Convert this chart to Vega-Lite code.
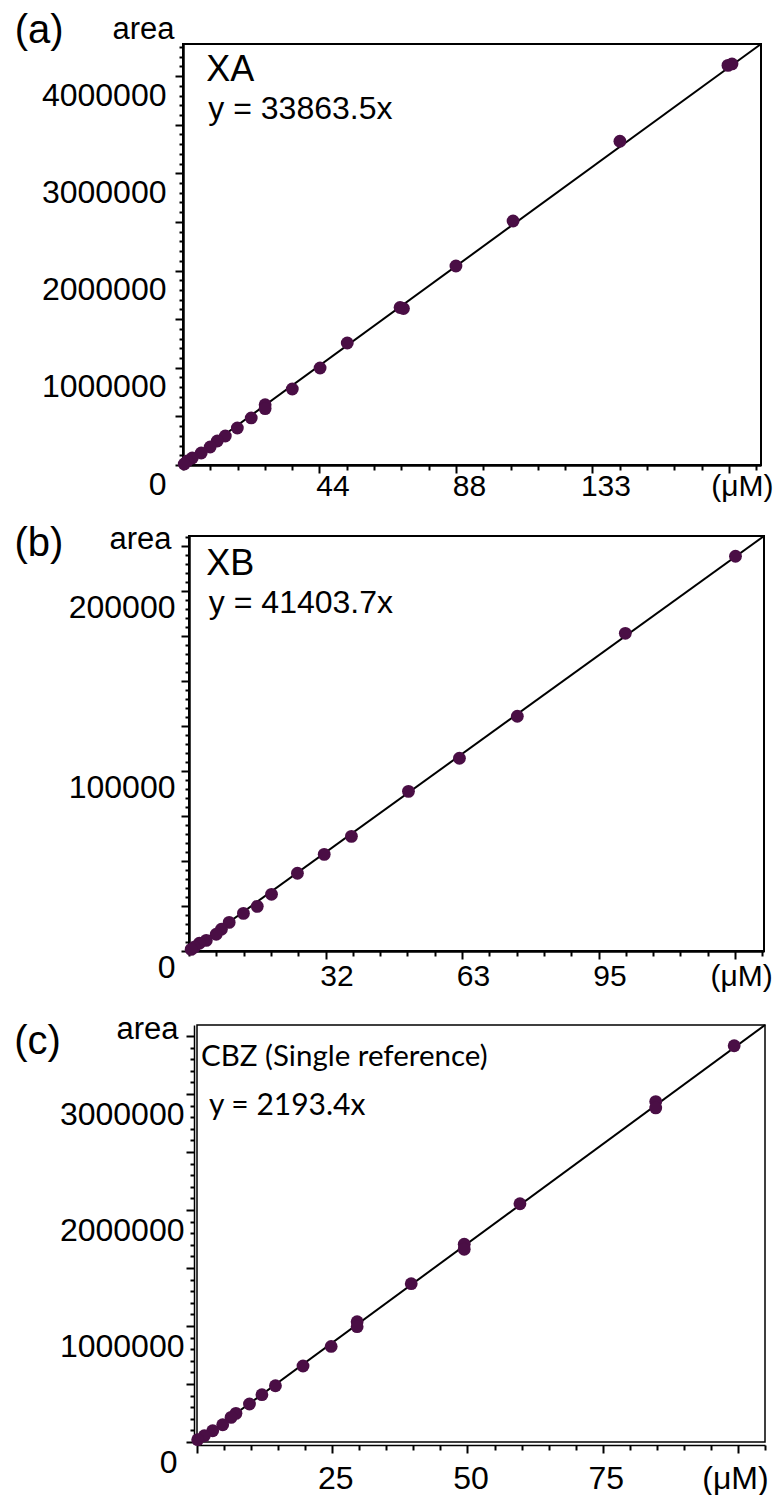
{
  "$schema": "https://vega.github.io/schema/vega-lite/v6.json",
  "background": "white",
  "padding": {"left": 12, "top": 9, "right": 0, "bottom": 0},
  "config": {
    "font": "Liberation Sans",
    "axis": {"grid": false, "domainColor": "black", "tickColor": "black", "labelColor": "black", "titleColor": "black", "labelFont": "Liberation Sans", "titleFont": "Liberation Sans", "titleFontWeight": "normal", "labelFlush": false, "labelOverlap": false, "labelBound": false, "domainWidth": 2.5, "tickWidth": 2, "labelFontSize": 32, "titleFontSize": 31},
    "text": {"color": "black", "font": "Liberation Sans"}
  },
  "spacing": 20,
  "vconcat": [
    {"spacing": 0, "hconcat": [
      {"width": 1, "height": 1, "view": {"stroke": null}, "data": {"values": []}, "mark": "point", "encoding": {}},
      {"width": 578, "height": 421, "view": {"stroke": "black", "strokeWidth": 2},
       "resolve": {"axis": {"x": "independent", "y": "independent"}},
       "layer": [
        {"data": {"values": [{"conc": 0, "area": 0}, {"conc": 187.2, "area": 4330000}]},
         "mark": {"type": "line", "color": "black", "strokeWidth": 2},
         "encoding": {
          "x": {"field": "conc", "type": "quantitative", "scale": {"domain": [0, 187.2], "nice": false, "zero": false},
                "axis": {"orient": "bottom", "title": null, "labels": false, "values": [0, 8.84, 17.68, 26.52, 35.36, 44.2, 53.04, 61.88, 70.72, 79.56, 88.4, 97.24, 106.08, 114.92, 123.76, 132.6, 141.44, 150.28, 159.12, 167.96, 176.8, 185.64],
                         "tickSize": {"condition": {"test": "indexof([44.2, 88.4, 132.6, 176.8], datum.value) >= 0", "value": 8}, "value": 5}}},
          "y": {"field": "area", "type": "quantitative", "scale": {"domain": [0, 4330000], "nice": false},
                "axis": {"orient": "left", "title": "area", "titleAngle": 0, "titleAlign": "right", "titleBaseline": "middle", "titleX": -9, "titleY": -15, "labels": false,
                         "values": [0,100000,200000,300000,400000,500000,600000,700000,800000,900000,1000000,1100000,1200000,1300000,1400000,1500000,1600000,1700000,1800000,1900000,2000000,2100000,2200000,2300000,2400000,2500000,2600000,2700000,2800000,2900000,3000000,3100000,3200000,3300000,3400000,3500000,3600000,3700000,3800000,3900000,4000000,4100000,4200000,4300000],
                         "tickSize": {"condition": {"test": "datum.value % 500000 === 0", "value": 8}, "value": 4}}}}},
        {"data": {"values": [
          {"conc": 176.5, "area": 4110000}, {"conc": 177.8, "area": 4125000}, {"conc": 141.5, "area": 3330000},
          {"conc": 106.9, "area": 2510000}, {"conc": 88.4, "area": 2047000}, {"conc": 70.3, "area": 1620000},
          {"conc": 71.4, "area": 1610000}, {"conc": 53.2, "area": 1255000}, {"conc": 44.4, "area": 998000},
          {"conc": 35.4, "area": 782000}, {"conc": 26.6, "area": 620000}, {"conc": 26.6, "area": 580000},
          {"conc": 22.1, "area": 484000}, {"conc": 17.6, "area": 381000}, {"conc": 13.7, "area": 298000},
          {"conc": 11.1, "area": 247000}, {"conc": 8.8, "area": 185000}, {"conc": 5.9, "area": 123000},
          {"conc": 3.0, "area": 72000}, {"conc": 1.4, "area": 41000}, {"conc": 0.4, "area": 10000}]},
         "mark": {"type": "circle", "size": 165, "color": "#4a0e45", "opacity": 1},
         "encoding": {
          "x": {"field": "conc", "type": "quantitative",
                "axis": {"orient": "bottom", "title": null, "domain": false, "tickOpacity": 0, "tickSize": 8, "labelFontSize": 30,
                         "values": [44.2, 88.4, 132.6, 176.8],
                         "labelExpr": "datum.value === 44.2 ? '44' : datum.value === 88.4 ? '88' : datum.value === 132.6 ? '133' : '(μM)'",
                         "labelOffset": 13, "labelPadding": -2}},
          "y": {"field": "area", "type": "quantitative",
                "axis": {"orient": "left", "title": null, "domain": false, "tickOpacity": 0, "tickSize": 8,
                         "values": [0, 1000000, 2000000, 3000000, 4000000], "format": "d",
                         "labelOffset": 19, "labelPadding": 9}}}},
        {"data": {"values": [{}]}, "mark": {"type": "text", "text": "(a)", "align": "left", "baseline": "middle", "fontSize": 40},
         "encoding": {"x": {"datum": -54.5, "axis": null}, "y": {"datum": 4465000, "axis": null}}},
        {"data": {"values": [{}]}, "mark": {"type": "text", "text": "XA", "align": "left", "baseline": "middle", "fontSize": 36},
         "encoding": {"x": {"datum": 7.5, "axis": null}, "y": {"datum": 4059000, "axis": null}}},
        {"data": {"values": [{}]}, "mark": {"type": "text", "text": "y = 33863.5x", "align": "left", "baseline": "middle", "fontSize": 32},
         "encoding": {"x": {"datum": 8.2, "axis": null}, "y": {"datum": 3663000, "axis": null}}}
       ]}
    ]},
    {"spacing": 20, "vconcat": [
      {"spacing": 0, "hconcat": [
        {"width": 1, "height": 1, "view": {"stroke": null}, "data": {"values": []}, "mark": "point", "encoding": {}},
        {"width": 575, "height": 415, "view": {"stroke": "black", "strokeWidth": 2},
         "resolve": {"axis": {"x": "independent", "y": "independent"}},
         "layer": [
          {"data": {"values": [{"conc": 0, "area": 0}, {"conc": 133.1, "area": 230556}]},
           "mark": {"type": "line", "color": "black", "strokeWidth": 2},
           "encoding": {
            "x": {"field": "conc", "type": "quantitative", "scale": {"domain": [0, 133.1], "nice": false, "zero": false},
                  "axis": {"orient": "bottom", "title": null, "labels": false, "values": [0, 6.32, 12.64, 18.96, 25.28, 31.6, 37.92, 44.24, 50.56, 56.88, 63.2, 69.52, 75.84, 82.16, 88.48, 94.8, 101.12, 107.44, 113.76, 120.08, 126.4, 132.72],
                           "tickSize": {"condition": {"test": "indexof([31.6, 63.2, 94.8, 126.4], datum.value) >= 0", "value": 8}, "value": 5}}},
            "y": {"field": "area", "type": "quantitative", "scale": {"domain": [0, 230556], "nice": false},
                  "axis": {"orient": "left", "title": "area", "titleAngle": 0, "titleAlign": "right", "titleBaseline": "middle", "titleX": -18, "titleY": 3, "labels": false,
                           "values": [0,5000,10000,15000,20000,25000,30000,35000,40000,45000,50000,55000,60000,65000,70000,75000,80000,85000,90000,95000,100000,105000,110000,115000,120000,125000,130000,135000,140000,145000,150000,155000,160000,165000,170000,175000,180000,185000,190000,195000,200000,205000,210000,215000,220000,225000,230000],
                           "tickSize": {"condition": {"test": "datum.value % 25000 === 0", "value": 8}, "value": 4}}}}},
          {"data": {"values": [
            {"conc": 126.5, "area": 219300}, {"conc": 101.0, "area": 176500}, {"conc": 76.0, "area": 130400},
            {"conc": 62.6, "area": 107100}, {"conc": 50.8, "area": 88700}, {"conc": 37.6, "area": 63700},
            {"conc": 31.3, "area": 53700}, {"conc": 25.1, "area": 43200}, {"conc": 19.1, "area": 31500},
            {"conc": 15.8, "area": 24800}, {"conc": 12.6, "area": 20900}, {"conc": 9.3, "area": 15900},
            {"conc": 7.5, "area": 12100}, {"conc": 6.3, "area": 9300}, {"conc": 4.0, "area": 5900},
            {"conc": 2.4, "area": 4300}, {"conc": 1.2, "area": 2100}, {"conc": 0.5, "area": 900}]},
           "mark": {"type": "circle", "size": 165, "color": "#4a0e45", "opacity": 1},
           "encoding": {
            "x": {"field": "conc", "type": "quantitative",
                  "axis": {"orient": "bottom", "title": null, "domain": false, "tickOpacity": 0, "tickSize": 8, "labelFontSize": 30,
                           "values": [31.6, 63.2, 94.8, 126.4],
                           "labelExpr": "datum.value === 31.6 ? '32' : datum.value === 63.2 ? '63' : datum.value === 94.8 ? '95' : '(μM)'",
                           "labelOffset": {"condition": {"test": "datum.value === 126.4", "value": 6}, "value": 11}, "labelPadding": 2}},
            "y": {"field": "area", "type": "quantitative",
                  "axis": {"orient": "left", "title": null, "domain": false, "tickOpacity": 0, "tickSize": 8,
                           "values": [0, 100000, 200000], "format": "d",
                           "labelOffset": 16, "labelPadding": 6}}}},
          {"data": {"values": [{}]}, "mark": {"type": "text", "text": "(b)", "align": "left", "baseline": "middle", "fontSize": 40},
           "encoding": {"x": {"datum": -40.4, "axis": null}, "y": {"datum": 225900, "axis": null}}},
          {"data": {"values": [{}]}, "mark": {"type": "text", "text": "XB", "align": "left", "baseline": "middle", "fontSize": 36},
           "encoding": {"x": {"datum": 4.0, "axis": null}, "y": {"datum": 214800, "axis": null}}},
          {"data": {"values": [{}]}, "mark": {"type": "text", "text": "y = 41403.7x", "align": "left", "baseline": "middle", "fontSize": 32},
           "encoding": {"x": {"datum": 4.6, "axis": null}, "y": {"datum": 193200, "axis": null}}}
         ]}
      ]},
      {"spacing": 0, "hconcat": [
        {"width": 1, "height": 1, "view": {"stroke": null}, "data": {"values": []}, "mark": "point", "encoding": {}},
        {"width": 568, "height": 417, "view": {"stroke": "black", "strokeWidth": 1.5},
         "resolve": {"axis": {"x": "independent", "y": "independent"}},
         "layer": [
          {"data": {"values": [{"conc": 0, "area": 0}, {"conc": 105, "area": 3595000}]},
           "mark": {"type": "line", "color": "black", "strokeWidth": 2},
           "encoding": {
            "x": {"field": "conc", "type": "quantitative", "scale": {"domain": [0, 105], "nice": false, "zero": false},
                  "axis": {"orient": "bottom", "title": null, "offset": 3, "domainWidth": 1.5, "labels": false, "values": [0,5,10,15,20,25,30,35,40,45,50,55,60,65,70,75,80,85,90,95,100,105],
                           "tickSize": {"condition": {"test": "datum.value % 25 === 0", "value": 8}, "value": 5}}},
            "y": {"field": "area", "type": "quantitative", "scale": {"domain": [0, 3595000], "nice": false},
                  "axis": {"orient": "left", "title": "area", "titleAngle": 0, "titleAlign": "right", "titleBaseline": "middle", "titleX": -16, "titleY": 4, "offset": 3, "domainWidth": 1.5, "labels": false,
                           "values": [0,100000,200000,300000,400000,500000,600000,700000,800000,900000,1000000,1100000,1200000,1300000,1400000,1500000,1600000,1700000,1800000,1900000,2000000,2100000,2200000,2300000,2400000,2500000,2600000,2700000,2800000,2900000,3000000,3100000,3200000,3300000,3400000,3500000],
                           "tickSize": {"condition": {"test": "datum.value % 500000 === 0", "value": 8}, "value": 4}}}}},
          {"data": {"values": [
            {"conc": 99.3, "area": 3416000}, {"conc": 84.8, "area": 2935000}, {"conc": 84.8, "area": 2880000},
            {"conc": 59.7, "area": 2054000}, {"conc": 49.4, "area": 1705000}, {"conc": 49.4, "area": 1662000},
            {"conc": 39.6, "area": 1365000}, {"conc": 29.6, "area": 1037000}, {"conc": 29.6, "area": 994000},
            {"conc": 24.8, "area": 824000}, {"conc": 19.6, "area": 655000}, {"conc": 14.5, "area": 485000},
            {"conc": 12.0, "area": 408000}, {"conc": 9.7, "area": 328000}, {"conc": 7.2, "area": 247000},
            {"conc": 6.3, "area": 212000}, {"conc": 4.75, "area": 149000}, {"conc": 2.9, "area": 97000},
            {"conc": 1.35, "area": 54000}, {"conc": 0.13, "area": 20000}]},
           "mark": {"type": "circle", "size": 165, "color": "#4a0e45", "opacity": 1},
           "encoding": {
            "x": {"field": "conc", "type": "quantitative",
                  "axis": {"orient": "bottom", "title": null, "offset": 3, "domain": false, "tickOpacity": 0, "tickSize": 8, "labelFontSize": 32,
                           "values": [25, 50, 75, 100],
                           "labelExpr": "datum.value === 100 ? '(μM)' : '' + datum.value",
                           "labelOffset": {"condition": {"test": "datum.value === 100", "value": -3}, "value": 3}, "labelPadding": 10}},
            "y": {"field": "area", "type": "quantitative",
                  "axis": {"orient": "left", "title": null, "offset": 3, "domain": false, "tickOpacity": 0, "tickSize": 8,
                           "values": [0, 1000000, 2000000, 3000000], "format": "d",
                           "labelOffset": 20, "labelPadding": {"condition": {"test": "datum.value === 0", "value": 9}, "value": 2}}}}},
          {"data": {"values": [{}]}, "mark": {"type": "text", "text": "(c)", "align": "left", "baseline": "middle", "fontSize": 40},
           "encoding": {"x": {"datum": -33.8, "axis": null}, "y": {"datum": 3451000, "axis": null}}},
          {"data": {"values": [{}]}, "mark": {"type": "text", "text": "CBZ (Single reference)", "align": "left", "baseline": "middle", "fontSize": 29.5, "font": "Lato"},
           "encoding": {"x": {"datum": 0.74, "axis": null}, "y": {"datum": 3321000, "axis": null}}},
          {"data": {"values": [{}]}, "mark": {"type": "text", "text": "y = 2193.4x", "align": "left", "baseline": "middle", "fontSize": 30, "font": "Lato"},
           "encoding": {"x": {"datum": 2.2, "axis": null}, "y": {"datum": 2899000, "axis": null}}}
         ]}
      ]}
    ]}
  ]
}
